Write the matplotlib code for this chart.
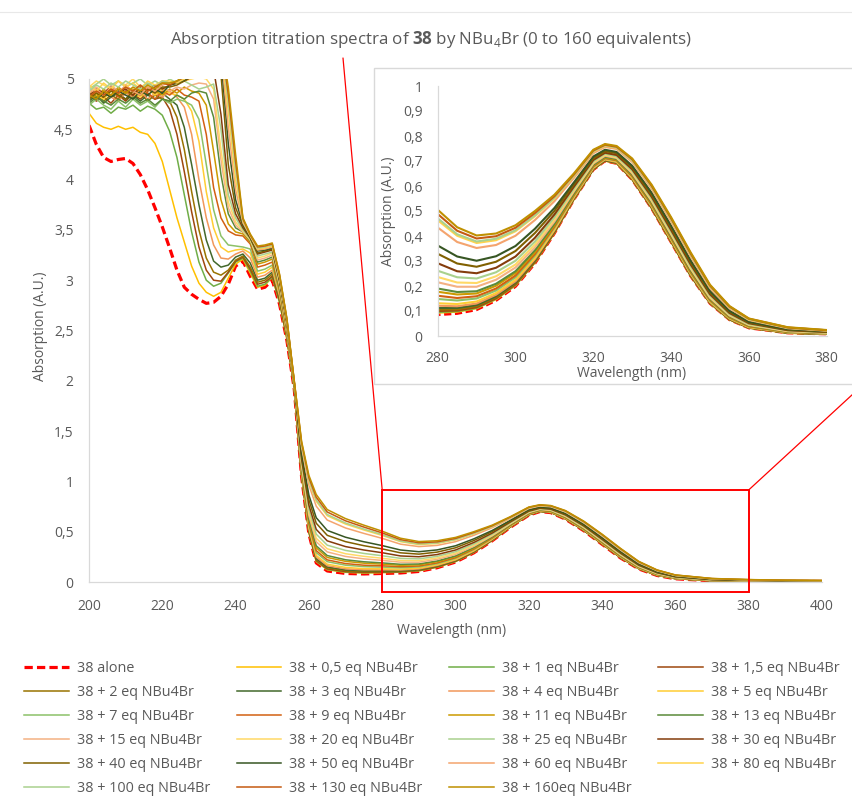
import matplotlib
matplotlib.use("Agg")
import matplotlib.pyplot as plt
from matplotlib.patches import Rectangle, ConnectionPatch
from matplotlib.lines import Line2D

wavelength = [200, 202, 204, 206, 208, 210, 212, 214, 216, 218, 220, 222, 224, 226, 228,
              230, 232, 234, 236, 238, 240, 242, 244, 246, 248, 250, 252, 254, 256,
              258, 260, 262, 265, 270, 275, 280, 285, 290, 295, 300, 305, 310, 315, 320,
              323, 326, 330, 335, 340, 345, 350, 355, 360, 370, 380, 390, 400]

# Absorption values for each titration point
abs_alone = [4.54, 4.35, 4.22, 4.18, 4.20, 4.21, 4.16, 4.05, 3.90, 3.72, 3.53, 3.32, 3.10, 2.93, 2.86,
             2.81, 2.77, 2.78, 2.84, 2.96, 3.14, 3.19, 3.04, 2.91, 2.93, 3.00, 2.76, 2.40, 1.92,
             1.05, 0.48, 0.19, 0.11, 0.085, 0.08, 0.085, 0.09, 0.105, 0.142, 0.198, 0.29, 0.41, 0.545, 0.665,
             0.70, 0.69, 0.625, 0.51, 0.375, 0.24, 0.13, 0.065, 0.032, 0.012, 0.008, 0.006, 0.005]
abs_0_5 = [4.66, 4.56, 4.52, 4.50, 4.53, 4.50, 4.52, 4.47, 4.45, 4.36, 4.18, 3.90, 3.62, 3.38, 3.14,
           2.97, 2.88, 2.84, 2.88, 3.02, 3.16, 3.21, 3.07, 2.93, 2.95, 3.03, 2.78, 2.41, 1.93,
           1.057, 0.492, 0.204, 0.122, 0.096, 0.090, 0.093, 0.097, 0.111, 0.147, 0.203, 0.294, 0.413, 0.547, 0.667,
           0.701, 0.691, 0.627, 0.512, 0.377, 0.242, 0.132, 0.066, 0.033, 0.012, 0.008, 0.006, 0.005]
abs_1 = [4.76, 4.70, 4.72, 4.66, 4.72, 4.70, 4.74, 4.68, 4.73, 4.70, 4.64, 4.48, 4.22, 3.85, 3.48,
         3.18, 3.00, 2.94, 2.97, 3.07, 3.18, 3.22, 3.09, 2.94, 2.96, 3.03, 2.78, 2.42, 1.93,
         1.059, 0.495, 0.207, 0.125, 0.099, 0.092, 0.096, 0.099, 0.112, 0.149, 0.204, 0.295, 0.414, 0.548, 0.667,
         0.702, 0.692, 0.627, 0.512, 0.378, 0.242, 0.132, 0.066, 0.033, 0.013, 0.008, 0.006, 0.005]
abs_1_5 = [4.84, 4.78, 4.82, 4.76, 4.84, 4.78, 4.85, 4.80, 4.86, 4.80, 4.82, 4.70, 4.45, 4.08, 3.68,
           3.33, 3.10, 3.00, 2.99, 3.08, 3.19, 3.23, 3.11, 2.96, 2.98, 3.04, 2.80, 2.43, 1.93,
           1.062, 0.500, 0.214, 0.131, 0.104, 0.097, 0.100, 0.102, 0.115, 0.151, 0.207, 0.297, 0.415, 0.549, 0.668,
           0.702, 0.692, 0.628, 0.513, 0.379, 0.243, 0.133, 0.067, 0.033, 0.013, 0.009, 0.006, 0.005]
abs_2 = [4.80, 4.86, 4.78, 4.84, 4.80, 4.88, 4.80, 4.86, 4.78, 4.84, 4.80, 4.78, 4.62, 4.30, 3.88,
         3.50, 3.22, 3.08, 3.05, 3.10, 3.20, 3.24, 3.13, 2.98, 3.00, 3.06, 2.81, 2.44, 1.93,
         1.068, 0.509, 0.224, 0.141, 0.112, 0.104, 0.106, 0.107, 0.120, 0.155, 0.210, 0.301, 0.418, 0.550, 0.669,
         0.703, 0.694, 0.629, 0.515, 0.380, 0.245, 0.134, 0.068, 0.034, 0.013, 0.009, 0.007, 0.006]
abs_3 = [4.78, 4.84, 4.76, 4.82, 4.86, 4.80, 4.84, 4.78, 4.84, 4.80, 4.86, 4.80, 4.74, 4.52, 4.15,
         3.75, 3.40, 3.19, 3.13, 3.15, 3.23, 3.26, 3.17, 3.00, 3.02, 3.08, 2.83, 2.45, 1.94,
         1.073, 0.518, 0.234, 0.150, 0.120, 0.112, 0.112, 0.112, 0.124, 0.159, 0.214, 0.304, 0.420, 0.552, 0.670,
         0.704, 0.695, 0.631, 0.516, 0.382, 0.246, 0.135, 0.069, 0.035, 0.013, 0.009, 0.007, 0.006]
abs_4 = [4.86, 4.80, 4.88, 4.82, 4.78, 4.86, 4.82, 4.88, 4.80, 4.86, 4.82, 4.88, 4.82, 4.72, 4.45,
         4.00, 3.62, 3.35, 3.22, 3.21, 3.26, 3.29, 3.22, 3.03, 3.05, 3.10, 2.84, 2.46, 1.94,
         1.080, 0.529, 0.248, 0.162, 0.131, 0.121, 0.121, 0.119, 0.130, 0.165, 0.219, 0.308, 0.423, 0.554, 0.672,
         0.706, 0.696, 0.632, 0.518, 0.384, 0.248, 0.136, 0.070, 0.035, 0.014, 0.009, 0.007, 0.006]
abs_5 = [4.90, 4.84, 4.80, 4.88, 4.84, 4.92, 4.86, 4.82, 4.90, 4.84, 4.90, 4.86, 4.84, 4.80, 4.68,
         4.38, 3.88, 3.52, 3.33, 3.28, 3.30, 3.31, 3.27, 3.06, 3.08, 3.13, 2.86, 2.48, 1.95,
         1.089, 0.544, 0.265, 0.177, 0.145, 0.133, 0.131, 0.128, 0.138, 0.172, 0.225, 0.313, 0.427, 0.557, 0.674,
         0.708, 0.698, 0.634, 0.521, 0.386, 0.251, 0.138, 0.071, 0.036, 0.015, 0.010, 0.007, 0.006]
abs_7 = [4.74, 4.80, 4.74, 4.70, 4.78, 4.72, 4.80, 4.74, 4.78, 4.72, 4.80, 4.76, 4.80, 4.78, 4.74,
         4.60, 4.15, 3.70, 3.44, 3.35, 3.34, 3.33, 3.31, 3.09, 3.11, 3.15, 2.88, 2.49, 1.95,
         1.103, 0.567, 0.292, 0.202, 0.167, 0.153, 0.148, 0.142, 0.150, 0.182, 0.235, 0.322, 0.433, 0.561, 0.677,
         0.710, 0.701, 0.638, 0.524, 0.390, 0.254, 0.141, 0.073, 0.038, 0.015, 0.010, 0.008, 0.007]
abs_9 = [4.82, 4.88, 4.84, 4.90, 4.82, 4.88, 4.84, 4.90, 4.86, 4.80, 4.88, 4.84, 4.90, 4.84, 4.82,
         4.78, 4.45, 3.92, 3.62, 3.49, 3.45, 3.44, 3.36, 3.13, 3.15, 3.18, 2.90, 2.50, 1.96,
         1.113, 0.584, 0.312, 0.220, 0.183, 0.167, 0.161, 0.152, 0.159, 0.190, 0.242, 0.328, 0.438, 0.564, 0.679,
         0.712, 0.703, 0.640, 0.527, 0.393, 0.257, 0.144, 0.075, 0.039, 0.016, 0.011, 0.008, 0.007]
abs_11 = [4.86, 4.82, 4.90, 4.84, 4.92, 4.86, 4.90, 4.84, 4.92, 4.88, 4.84, 4.90, 4.86, 4.92, 4.88,
          4.86, 4.74, 4.28, 3.80, 3.56, 3.48, 3.46, 3.38, 3.16, 3.18, 3.21, 2.92, 2.52, 1.96,
          1.127, 0.608, 0.340, 0.244, 0.205, 0.187, 0.177, 0.166, 0.170, 0.201, 0.252, 0.336, 0.444, 0.568, 0.683,
          0.715, 0.705, 0.644, 0.531, 0.397, 0.261, 0.147, 0.077, 0.040, 0.017, 0.012, 0.009, 0.007]
abs_13 = [4.76, 4.82, 4.78, 4.74, 4.80, 4.76, 4.82, 4.76, 4.80, 4.74, 4.80, 4.78, 4.84, 4.80, 4.86,
          4.88, 4.86, 4.62, 4.05, 3.66, 3.52, 3.48, 3.39, 3.18, 3.20, 3.23, 2.93, 2.53, 1.96,
          1.138, 0.625, 0.360, 0.263, 0.221, 0.201, 0.190, 0.176, 0.179, 0.209, 0.259, 0.343, 0.449, 0.571, 0.685,
          0.717, 0.708, 0.646, 0.534, 0.400, 0.264, 0.149, 0.079, 0.042, 0.018, 0.012, 0.009, 0.008]
abs_15 = [4.88, 4.92, 4.86, 4.94, 4.88, 4.92, 4.86, 4.94, 4.90, 4.86, 4.92, 4.88, 4.92, 4.90, 4.94,
          4.96, 4.95, 4.80, 4.20, 3.72, 3.55, 3.48, 3.40, 3.20, 3.22, 3.25, 2.95, 2.54, 1.97,
          1.159, 0.660, 0.401, 0.299, 0.254, 0.230, 0.215, 0.197, 0.197, 0.225, 0.274, 0.355, 0.458, 0.578, 0.690,
          0.721, 0.712, 0.651, 0.540, 0.406, 0.270, 0.153, 0.082, 0.044, 0.019, 0.013, 0.010, 0.008]
abs_20 = [4.92, 4.98, 4.94, 4.90, 4.98, 4.94, 5.00, 4.92, 4.96, 4.92, 4.98, 4.94, 4.96, 4.98, 5.00,
          5.02, 5.00, 4.90, 4.30, 3.78, 3.58, 3.49, 3.40, 3.22, 3.24, 3.27, 2.96, 2.55, 1.97,
          1.176, 0.689, 0.435, 0.330, 0.281, 0.255, 0.236, 0.214, 0.212, 0.239, 0.286, 0.366, 0.466, 0.583, 0.694,
          0.725, 0.715, 0.656, 0.544, 0.411, 0.274, 0.157, 0.085, 0.046, 0.020, 0.014, 0.010, 0.009]
abs_25 = [4.90, 4.95, 5.00, 4.94, 4.98, 4.92, 4.96, 5.00, 4.94, 4.98, 4.94, 5.00, 4.96, 4.98, 4.94,
          4.90, 4.92, 4.95, 4.50, 3.85, 3.62, 3.50, 3.41, 3.24, 3.26, 3.28, 2.98, 2.56, 1.97,
          1.197, 0.724, 0.476, 0.366, 0.314, 0.284, 0.261, 0.235, 0.230, 0.255, 0.301, 0.378, 0.475, 0.589, 0.699,
          0.729, 0.719, 0.661, 0.550, 0.417, 0.280, 0.162, 0.088, 0.048, 0.022, 0.015, 0.011, 0.009]
abs_30 = [4.84, 4.90, 4.86, 4.92, 4.86, 4.90, 4.84, 4.92, 4.88, 4.94, 4.90, 4.94, 4.96, 4.98, 5.02,
          5.08, 5.12, 5.10, 4.65, 3.95, 3.66, 3.52, 3.42, 3.26, 3.28, 3.30, 2.99, 2.57, 1.98,
          1.222, 0.764, 0.523, 0.409, 0.352, 0.318, 0.291, 0.259, 0.251, 0.273, 0.318, 0.393, 0.486, 0.597, 0.704,
          0.733, 0.724, 0.667, 0.557, 0.424, 0.287, 0.167, 0.092, 0.051, 0.023, 0.016, 0.012, 0.010]
abs_40 = [4.80, 4.86, 4.82, 4.88, 4.84, 4.80, 4.88, 4.84, 4.90, 4.86, 4.92, 4.92, 4.94, 4.98, 5.03,
          5.10, 5.18, 5.22, 5.05, 4.15, 3.72, 3.54, 3.42, 3.27, 3.29, 3.31, 3.00, 2.58, 1.98,
          1.253, 0.816, 0.584, 0.464, 0.401, 0.361, 0.329, 0.290, 0.277, 0.297, 0.340, 0.412, 0.500, 0.606, 0.711,
          0.739, 0.731, 0.674, 0.565, 0.433, 0.295, 0.174, 0.097, 0.054, 0.025, 0.017, 0.013, 0.011]
abs_50 = [4.84, 4.80, 4.86, 4.82, 4.88, 4.84, 4.80, 4.88, 4.84, 4.90, 4.86, 4.94, 4.96, 4.99, 5.04,
          5.12, 5.22, 5.28, 5.20, 4.36, 3.80, 3.55, 3.43, 3.29, 3.30, 3.32, 3.01, 2.59, 1.98,
          1.281, 0.863, 0.639, 0.513, 0.445, 0.400, 0.362, 0.318, 0.301, 0.319, 0.360, 0.429, 0.512, 0.614, 0.718,
          0.745, 0.736, 0.681, 0.573, 0.441, 0.303, 0.180, 0.101, 0.057, 0.027, 0.019, 0.014, 0.012]
abs_60 = [4.86, 4.90, 4.84, 4.92, 4.86, 4.94, 4.88, 4.84, 4.92, 4.88, 4.94, 4.96, 4.98, 5.00, 5.05,
          5.14, 5.25, 5.30, 5.28, 4.52, 3.90, 3.57, 3.44, 3.30, 3.31, 3.33, 3.02, 2.60, 1.99,
          1.341, 0.961, 0.754, 0.616, 0.537, 0.483, 0.434, 0.376, 0.352, 0.364, 0.401, 0.464, 0.539, 0.632, 0.731,
          0.756, 0.748, 0.696, 0.589, 0.458, 0.319, 0.192, 0.111, 0.064, 0.031, 0.021, 0.016, 0.013]
abs_80 = [4.94, 4.88, 4.96, 4.90, 4.98, 4.92, 4.96, 4.90, 4.98, 4.94, 4.98, 4.98, 4.96, 5.00, 5.06,
          5.16, 5.28, 5.34, 5.32, 4.68, 4.00, 3.59, 3.44, 3.31, 3.32, 3.34, 3.03, 2.60, 1.99,
          1.365, 1.002, 0.802, 0.659, 0.576, 0.517, 0.463, 0.401, 0.372, 0.383, 0.419, 0.479, 0.550, 0.640, 0.737,
          0.761, 0.753, 0.702, 0.596, 0.465, 0.326, 0.198, 0.115, 0.066, 0.033, 0.022, 0.017, 0.014]
abs_100 = [4.88, 4.94, 4.90, 4.96, 4.92, 4.98, 4.94, 4.90, 4.96, 4.92, 4.98, 4.96, 4.98, 5.02, 5.08,
           5.18, 5.30, 5.36, 5.35, 4.78, 4.10, 3.60, 3.45, 3.32, 3.33, 3.35, 3.04, 2.61, 1.99,
           1.372, 1.014, 0.816, 0.671, 0.586, 0.526, 0.471, 0.407, 0.378, 0.389, 0.423, 0.483, 0.553, 0.642, 0.739,
           0.763, 0.754, 0.703, 0.597, 0.467, 0.327, 0.199, 0.116, 0.067, 0.033, 0.023, 0.017, 0.014]
abs_130 = [4.82, 4.88, 4.84, 4.90, 4.86, 4.92, 4.88, 4.94, 4.88, 4.92, 4.96, 4.94, 4.98, 5.02, 5.08,
           5.20, 5.32, 5.38, 5.38, 4.85, 4.18, 3.61, 3.45, 3.33, 3.34, 3.36, 3.05, 2.61, 2.00,
           1.386, 1.037, 0.843, 0.696, 0.608, 0.546, 0.488, 0.421, 0.390, 0.399, 0.433, 0.492, 0.559, 0.646, 0.742,
           0.765, 0.757, 0.707, 0.601, 0.471, 0.331, 0.202, 0.118, 0.069, 0.034, 0.023, 0.018, 0.015]
abs_160 = [4.84, 4.80, 4.88, 4.84, 4.90, 4.86, 4.92, 4.88, 4.94, 4.90, 4.96, 4.96, 4.98, 5.03, 5.10,
           5.22, 5.34, 5.40, 5.40, 4.92, 4.25, 3.62, 3.46, 3.34, 3.35, 3.37, 3.06, 2.62, 2.00,
           1.40, 1.06, 0.87, 0.72, 0.63, 0.565, 0.505, 0.435, 0.402, 0.41, 0.443, 0.50, 0.565, 0.65, 0.745,
           0.768, 0.76, 0.71, 0.605, 0.475, 0.335, 0.205, 0.12, 0.07, 0.035, 0.024, 0.018, 0.015]

series_labels = ["38 alone", "38 + 0,5 eq NBu4Br", "38 + 1 eq NBu4Br", "38 + 1,5 eq NBu4Br",
                 "38 + 2 eq NBu4Br", "38 + 3 eq NBu4Br", "38 + 4 eq NBu4Br", "38 + 5 eq NBu4Br",
                 "38 + 7 eq NBu4Br", "38 + 9 eq NBu4Br", "38 + 11 eq NBu4Br", "38 + 13 eq NBu4Br",
                 "38 + 15 eq NBu4Br", "38 + 20 eq NBu4Br", "38 + 25 eq NBu4Br", "38 + 30 eq NBu4Br",
                 "38 + 40 eq NBu4Br", "38 + 50 eq NBu4Br", "38 + 60 eq NBu4Br", "38 + 80 eq NBu4Br",
                 "38 + 100 eq NBu4Br", "38 + 130 eq NBu4Br", "38 + 160eq NBu4Br"]
series_values = [abs_alone, abs_0_5, abs_1, abs_1_5, abs_2, abs_3, abs_4, abs_5, abs_7, abs_9,
                 abs_11, abs_13, abs_15, abs_20, abs_25, abs_30, abs_40, abs_50, abs_60, abs_80,
                 abs_100, abs_130, abs_160]

main_yticks = [0, 0.5, 1, 1.5, 2, 2.5, 3, 3.5, 4, 4.5, 5]
main_yticklabels = ["0", "0,5", "1", "1,5", "2", "2,5", "3", "3,5", "4", "4,5", "5"]
inset_yticks = [0, 0.1, 0.2, 0.3, 0.4, 0.5, 0.6, 0.7, 0.8, 0.9, 1]
inset_yticklabels = ["0", "0,1", "0,2", "0,3", "0,4", "0,5", "0,6", "0,7", "0,8", "0,9", "1"]

# Excel-like colour cycle (orange / gold / green shades)
colors = ["#FF0000", "#FFC000", "#70AD47", "#9E480E", "#997300", "#43682B", "#F1975A", "#FFCD33",
          "#8CC168", "#D26012", "#CC9A00", "#5A8A39", "#F4B183", "#FFD966", "#A9D18E", "#843C0C",
          "#806000", "#375623", "#F4A46E", "#FFD34D", "#A9D18E", "#C55A11", "#BF9000"]

TEXT = "#595959"
AXIS = "#D9D9D9"
W, H = 852, 798


def fx(px):
    return px / W


def fy(py):
    return 1 - py / H


def style_axes(ax, pad_x, pad_y, size):
    for side in ["top", "right"]:
        ax.spines[side].set_visible(False)
    for side in ["left", "bottom"]:
        ax.spines[side].set_color(AXIS)
        ax.spines[side].set_linewidth(0.9)
    ax.tick_params(axis="x", length=0, pad=pad_x, labelsize=size, labelcolor=TEXT)
    ax.tick_params(axis="y", length=0, pad=pad_y, labelsize=size, labelcolor=TEXT)


def draw_series(ax, lw, dash_lw):
    handles = []
    for i, vals in enumerate(series_values):
        if i == 0:
            h, = ax.plot(wavelength, vals, color=colors[i], lw=dash_lw, dashes=(2.6, 1.3),
                         label=series_labels[i])
        else:
            h, = ax.plot(wavelength, vals, color=colors[i], lw=lw, label=series_labels[i])
        handles.append(h)
    return handles


def main():
    plt.rcParams['font.family'] = ['Open Sans', 'DejaVu Sans']
    plt.rcParams['mathtext.fontset'] = 'custom'
    plt.rcParams['mathtext.rm'] = 'Open Sans'
    plt.rcParams['mathtext.bf'] = 'Open Sans:bold'

    fig = plt.figure(figsize=(W / 100, H / 100), dpi=100, facecolor='white')

    # main chart
    ax = fig.add_axes([fx(89), fy(582), (822 - 89) / W, (582 - 79) / H])
    handles = draw_series(ax, 1.1, 2.3)
    ax.set_xlim(200, 400)
    ax.set_ylim(0, 5)
    ax.set_xticks(range(200, 401, 20))
    ax.set_yticks(main_yticks)
    ax.set_yticklabels(main_yticklabels)
    style_axes(ax, 12, 11, 10)

    # zoom box on the main chart
    ax.add_patch(Rectangle((280, -0.1), 100, 1.015, fill=False, edgecolor='#FF0000',
                           lw=1.4, clip_on=False, zorder=30))
    for xa, pb in [((280, 0.915), (343, 58)), ((380, 0.915), (853, 394))]:
        con = ConnectionPatch(xyA=xa, coordsA=ax.transData, xyB=(fx(pb[0]), fy(pb[1])),
                              coordsB=fig.transFigure, color='#FF0000', lw=0.9, zorder=1)
        fig.add_artist(con)

    # inset frame and inset chart
    fig.add_artist(Rectangle((fx(374), fy(384)), (860 - 374) / W, (384 - 68) / H,
                             transform=fig.transFigure, facecolor='white',
                             edgecolor=AXIS, lw=1, zorder=2))
    ax_in = fig.add_axes([fx(437.7), fy(336), 389 / W, 250 / H])
    ax_in.set_zorder(3)
    ax_in.patch.set_alpha(0)
    draw_series(ax_in, 1.5, 2.0)
    ax_in.set_xlim(280, 380)
    ax_in.set_ylim(0, 1)
    ax_in.set_xticks(range(280, 381, 20))
    ax_in.set_yticks(inset_yticks)
    ax_in.set_yticklabels(inset_yticklabels)
    style_axes(ax_in, 11, 11, 10)

    # labels and title
    fig.text(fx(431), fy(40), r"Absorption titration spectra of $\mathbf{38}$ by NBu$_4$Br (0 to 160 equivalents)",
             ha='center', va='center', fontsize=12.2, color=TEXT)
    fig.text(fx(40), fy(326), "Absorption (A.U.)", rotation=90, ha='center', va='center',
             fontsize=10, color=TEXT)
    fig.text(fx(452), fy(631), "Wavelength (nm)", ha='center', va='center', fontsize=10, color=TEXT)
    fig.text(fx(389), fy(211), "Absorption (A.U.)", rotation=90, ha='center', va='center',
             fontsize=10, color=TEXT, zorder=4)
    fig.text(fx(632), fy(373), "Wavelength (nm)", ha='center', va='center', fontsize=10,
             color=TEXT, zorder=4)
    fig.add_artist(Line2D([0, 1], [fy(12), fy(12)], color='#E8E8E8', lw=0.8))

    # legend: excel fills rows first, matplotlib fills columns
    ncol, nrow = 4, 6
    order = []
    for c in range(ncol):
        for r in range(nrow):
            k = r * ncol + c
            if k < len(handles):
                order.append(k)
    fig.legend([handles[k] for k in order], [series_labels[k] for k in order], ncol=ncol,
               loc='upper left', bbox_to_anchor=(fx(24), fy(661)), frameon=False,
               handlelength=3.1, handletextpad=0.55, columnspacing=1.85, labelspacing=0.63,
               fontsize=10.4, labelcolor=TEXT, borderaxespad=0, borderpad=0)

    fig.savefig("out.png", dpi=100, facecolor='white')


if __name__ == "__main__":
    main()
